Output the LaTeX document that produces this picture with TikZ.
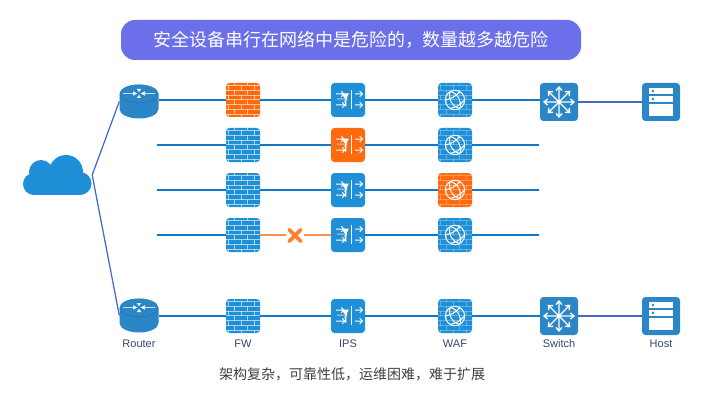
\documentclass[tikz,border=0pt]{standalone}
\usepackage{fontspec}
\setmainfont{Liberation Sans}
\newfontfamily\cjkfont{Noto Sans CJK SC}
\usepackage{xcolor}
\usetikzlibrary{shapes.misc, arrows.meta, positioning, calc}

\definecolor{NetBlue}{HTML}{1F8FD8}
\definecolor{DarkBlue}{HTML}{2B86C8}
\definecolor{HotOrange}{HTML}{FF6A0E}
\definecolor{PillBlue}{HTML}{6B6FEA}
\definecolor{LineBlue}{HTML}{1078CC}
\definecolor{LinkBlue}{HTML}{4469C6}
\definecolor{LabelInk}{HTML}{34466C}

% brick pattern, used by the firewall and the WAF
\newcommand{\brickwall}[1]{%
  \begin{scope}[shift={(path picture bounding box.center)}, white, line width=0.9pt, opacity=#1]
    \foreach \yy in {-14.5,-9.7,-4.9,-0.1,4.7,9.5,14.3} \draw (-17,\yy) -- (17,\yy);
    \foreach \xx in {-9,4.5} \draw (\xx,-17) -- (\xx,-14.5) (\xx,-9.7) -- (\xx,-4.9) (\xx,-0.1) -- (\xx,4.7) (\xx,9.5) -- (\xx,14.3);
    \foreach \xx in {-14.5,-1.5,11.5} \draw (\xx,-14.5) -- (\xx,-9.7) (\xx,-4.9) -- (\xx,-0.1) (\xx,4.7) -- (\xx,9.5) (\xx,14.3) -- (\xx,17);
  \end{scope}}
% arrow from x=#1 to x=#2 at height #3
\newcommand{\ipsarrow}[3]{(#1,#3) -- (#2,#3) ($(#2,#3)+(-2.8,-2.8)$) -- (#2,#3) -- ($(#2,#3)+(-2.8,2.8)$)}
\newcommand{\ipsglyph}{%
  \begin{scope}[shift={(path picture bounding box.center)}, sharp corners, white, line width=1pt]
    \draw (3,-10) -- (3,9);
    \draw \ipsarrow{7}{14.5}{-6};
    \draw \ipsarrow{7}{14.5}{5};
    \draw \ipsarrow{-12}{-4}{-6};
    \draw \ipsarrow{-12}{-3}{5};
    \draw[white!60!gray] \ipsarrow{-11}{-1}{-1};
    \fill (-7,-6.5) -- (1,-6.5) -- (-1.6,-1.5) -- (-1.6,6.5) -- (-3,6.5) -- (-3,-1.5) -- cycle;
  \end{scope}}
\newcommand{\globeglyph}{%
  \begin{scope}[shift={(path picture bounding box.center)}, sharp corners, white, line width=1pt]
    \draw (0,0) circle (9.7);
    \draw (-120:9.7) to[bend left=50] (60:9.7);
    \draw (-120:9.7) to[bend right=50] (60:9.7);
    \draw (-60:9.7) to[bend left=18] (180:9.7);
    \draw (120:9.7) to[bend right=18] (0:9.7);
  \end{scope}}
\newcommand{\switchglyph}{%
  \begin{scope}[shift={(path picture bounding box.center)}, sharp corners, white, line width=1.3pt]
    \foreach \ang in {0,45,...,315}
      \draw (0,0) -- (\ang:15) (\ang+15:11.8) -- (\ang:15) -- (\ang-15:11.8);
    \fill (0,0) circle (2.2);
  \end{scope}}
\newcommand{\hostglyph}{%
  \begin{scope}[shift={(path picture bounding box.center)}, sharp corners]
    \fill[white] (-12,-14) rectangle (12,-8);
    \fill[white] (-12,-6) rectangle (12,0);
    \fill[white] (-12,2) rectangle (12,14);
    \fill[DarkBlue] (-8,-11) circle (1.4);
    \fill[DarkBlue] (-8,-3) circle (1.4);
  \end{scope}}
\newcommand{\routerglyph}{%
  \begin{scope}[shift={(path picture bounding box.center)}, sharp corners]
    \fill[DarkBlue] (-19.5,-7.5) -- (-19.5,7.5) arc[start angle=180, end angle=0, x radius=19.5, y radius=9.5] -- (19.5,-7.5) -- cycle;
    \fill[DarkBlue!90!black] (0,-7.5) ellipse (19.5 and 9.5);
    \fill[DarkBlue] (0,-8) ellipse (19 and 8.8);
    \draw[white!75!DarkBlue, line width=1.1pt] (-16,-8) -- (-5,-8);
    \draw[white!75!DarkBlue, line width=1.1pt] (5,-8) -- (16,-8);
    \fill[white] (-6,-10.2) -- (-1.5,-8) -- (-6,-5.8) -- cycle;
    \fill[white] (6,-10.2) -- (1.5,-8) -- (6,-5.8) -- cycle;
    \fill[white] (-2.2,-12.5) -- (2.2,-12.5) -- (0,-9.3) -- cycle;
    \fill[white] (-2.2,-3.5) -- (2.2,-3.5) -- (0,-6.7) -- cycle;
  \end{scope}}
\newcommand{\cloudglyph}{%
  \begin{scope}[shift={(path picture bounding box.center)}, sharp corners]
    \fill[NetBlue] (-23,9) circle (11);
    \fill[NetBlue] (-16,-3) circle (12);
    \fill[NetBlue] (9,-3) circle (17);
    \fill[NetBlue] (23,8.5) circle (11.5);
    \fill[NetBlue] (-23,-2) rectangle (23,20);
  \end{scope}}

\tikzset{
    iconbox/.style={rectangle, rounded corners=3.5pt, minimum size=34pt, inner sep=0pt, fill=NetBlue},
    fwbox/.style={iconbox, path picture={\brickwall{0.6}}},
    ipsbox/.style={iconbox, path picture={\ipsglyph}},
    wafbox/.style={iconbox, path picture={\brickwall{0.3}\globeglyph}},
    switchbox/.style={iconbox, minimum size=38pt, fill=DarkBlue, path picture={\switchglyph}},
    hostbox/.style={iconbox, minimum size=38pt, fill=DarkBlue, path picture={\hostglyph}},
    routerbox/.style={rectangle, minimum width=39pt, minimum height=34pt, inner sep=0pt, path picture={\routerglyph}},
    netline/.style={line width=1.25pt, LineBlue},
    uplink/.style={line width=1.25pt, LinkBlue},
    breakline/.style={line width=1.3pt, HotOrange!75!white},
    iconlabel/.style={font=\fontsize{11}{11}\selectfont, text=LabelInk},
}

\begin{document}
\begin{tikzpicture}[x=1pt, y=-1pt]
    \useasboundingbox (0,0) rectangle (705,404);

    \node[rectangle, rounded corners=14pt, minimum width=460pt, minimum height=40pt, fill=PillBlue,
        text=white, font=\fontsize{18}{18}\selectfont\cjkfont] (title) at (351,40) {安全设备串行在网络中是危险的，数量越多越危险};

    \node[rectangle, minimum width=70pt, minimum height=40pt, inner sep=0pt, path picture={\cloudglyph}] (cloud) at (57,175) {};
    \node[routerbox] (routera) at (139,101.5) {};
    \node[routerbox] (routerb) at (139,315.5) {};

    % first row
    \node[fwbox, fill=HotOrange] (fwa) at (243,100) {};
    \node[ipsbox] (ipsa) at (348,100) {};
    \node[wafbox] (wafa) at (455,100) {};
    \node[switchbox] (switcha) at (559,102) {};
    \node[hostbox] (hosta) at (661,102) {};

    % rows without their own router
    \coordinate (startb) at (157,145);
    \node[fwbox] (fwb) at (243,145) {};
    \node[ipsbox, fill=HotOrange] (ipsb) at (348,145) {};
    \node[wafbox] (wafb) at (455,145) {};
    \coordinate (endb) at (539,145);

    \coordinate (startc) at (157,190);
    \node[fwbox] (fwc) at (243,190) {};
    \node[ipsbox] (ipsc) at (348,190) {};
    \node[wafbox, fill=HotOrange] (wafc) at (455,190) {};
    \coordinate (endc) at (539,190);

    \coordinate (startd) at (157,235);
    \node[fwbox] (fwd) at (243,235) {};
    \node[rectangle, cross out, draw=HotOrange!85!white, line width=3.8pt, line cap=round, minimum size=8pt, inner sep=0pt] (breakd) at (295,235.5) {};
    \node[ipsbox] (ipsd) at (348,235) {};
    \node[wafbox] (wafd) at (455,235) {};
    \coordinate (endd) at (539,235);

    % last row
    \node[fwbox] (fwe) at (243,316) {};
    \node[ipsbox] (ipse) at (348,316) {};
    \node[wafbox] (wafe) at (455,316) {};
    \node[switchbox] (switche) at (559,316) {};
    \node[hostbox] (hoste) at (661,316) {};

    \draw[uplink] (cloud.east) -- (routera.west);
    \draw[uplink] (cloud.east) -- (routerb.west);

    \draw[netline] (routera.east |- fwa) -- (fwa) -- (ipsa) -- (wafa) -- (switcha.west |- wafa);
    \draw[uplink] (switcha) -- (hosta);
    \draw[netline] (startb) -- (fwb) -- (ipsb) -- (wafb) -- (endb);
    \draw[netline] (startc) -- (fwc) -- (ipsc) -- (wafc) -- (endc);
    \draw[netline] (startd) -- (fwd);
    \draw[breakline, shorten >=3pt] (fwd) -- (breakd.west |- fwd);
    \draw[breakline, shorten <=3pt] (breakd.east |- ipsd) -- (ipsd);
    \draw[netline] (ipsd) -- (wafd) -- (endd);
    \draw[netline] (routerb.east |- fwe) -- (fwe) -- (ipse) -- (wafe) -- (switche);
    \draw[uplink] (switche) -- (hoste);

    \node[iconlabel] (lblrouter) at (139,344) {Router};
    \node[iconlabel] (lblfw) at (243,344) {FW};
    \node[iconlabel] (lblips) at (348,344) {IPS};
    \node[iconlabel] (lblwaf) at (455,344) {WAF};
    \node[iconlabel] (lblswitch) at (559,344) {Switch};
    \node[iconlabel] (lblhost) at (661,344) {Host};

    \node[text=black!75, font=\fontsize{14}{14}\selectfont\cjkfont] (note) at (352,374) {架构复杂，可靠性低，运维困难，难于扩展};
\end{tikzpicture}
\end{document}
